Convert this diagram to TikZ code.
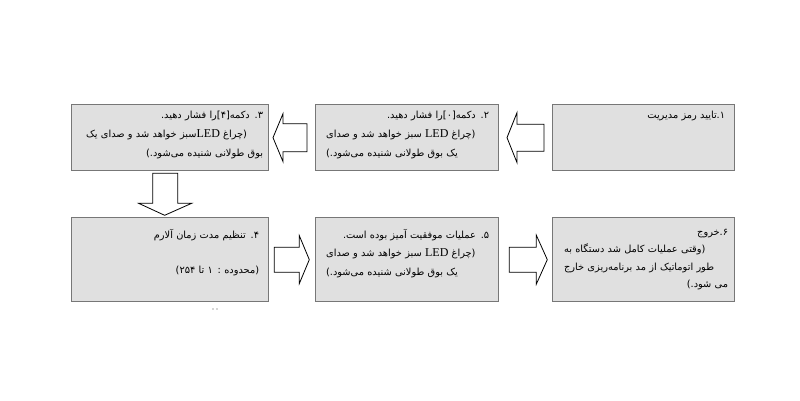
\documentclass[tikz,border=0pt]{standalone}
\usepackage{fontspec}
\setmainfont{Liberation Serif}
\newfontfamily\arabicfont[Script=Arabic]{DejaVu Sans}
\TeXXeTstate=1
\usetikzlibrary{calc}
\definecolor{boxfill}{HTML}{E0E0E0}
\definecolor{boxborder}{HTML}{777777}
\newcommand\RL[1]{\leavevmode\beginR #1\endR}
\newcommand\JL[1]{\leavevmode\hbox to\hsize{\beginR #1\endR}}
\newcommand\LED{\beginL{\rmfamily\fontsize{12}{12}\selectfont LED}\endL}
\newcommand\fa[1]{\arabicfont\fontsize{9.8}{#1}\selectfont\spaceskip=0.25em plus 2em minus 0.08em\relax}
\tikzset{
  box/.style={draw=boxborder, line width=1.3pt, fill=boxfill, inner sep=0pt, anchor=north west},
  txt/.style={inner sep=0pt, anchor=north east, align=right},
  arr/.style={draw=black, line width=0.8pt, fill=white, line join=miter},
}
\begin{document}
\begin{tikzpicture}[x=1pt,y=-1pt]
\useasboundingbox (0,0) rectangle (800,400);
\fill[white] (0,0) rectangle (800,400);
% boxes
\node[box, minimum width=182pt, minimum height=66pt] (b1) at (552,104) {};
\node[box, minimum width=183pt, minimum height=66pt] (b2) at (315,104) {};
\node[box, minimum width=197pt, minimum height=66pt] (b3) at (71,104) {};
\node[box, minimum width=197pt, minimum height=84pt] (b4) at (71,217) {};
\node[box, minimum width=183pt, minimum height=84pt] (b5) at (315,217) {};
\node[box, minimum width=182pt, minimum height=84pt] (b6) at (552,217) {};
% texts
\node[txt, text width=165pt, font=\fa{19pt}] (t1) at ($(b1.north east)+(-10,7)$) {\RL{۱.تایید رمز مدیریت}};
\node[txt, text width=163pt, font=\fa{19pt}] (t2) at ($(b2.north east)+(-10,7)$) {\RL{۲. دکمه[۰]را فشار دهید.}\\ \JL{(چراغ \LED\ سبز خواهد شد و صدای}\\ \JL{یک بوق طولانی شنیده می‌شود.)}};
\node[txt, text width=177pt, font=\fa{19pt}] (t3) at ($(b3.north east)+(-6,7)$) {\RL{۳. دکمه[۴]را فشار دهید.}\\ \JL{(چراغ \LED{}سبز خواهد شد و صدای یک}\\ \RL{بوق طولانی شنیده می‌شود.)}};
\node[txt, text width=170pt, font=\fa{17.5pt}] (t4) at ($(b4.north east)+(-10,12)$) {\RL{۴.  تنظیم مدت زمان آلارم}\\ \mbox{}\\ \RL{(محدوده : ۱ تا \beginL ۲۵۴\endL)}};
\node[txt, text width=163pt, font=\fa{18.5pt}] (t5) at ($(b5.north east)+(-10,12)$) {\RL{۵.  عملیات موفقیت آمیز بوده است.}\\ \JL{(چراغ \LED\ سبز خواهد شد و صدای}\\ \JL{یک بوق طولانی شنیده می‌شود.)}};
\node[txt, text width=164pt, font=\fa{17.5pt}] (t6) at ($(b6.north east)+(-7,12)$) {\RL{۶.خروج}\\ \JL{(وقتی عملیات کامل شد دستگاه به}\\ \JL{طور اتوماتیک از مد برنامه‌ریزی خارج}\\ \RL{می شود.)}};
% block arrows
\draw[arr] ($(b1.west)+(-8,-13.5)$) -- ($(b1.west)+(-35,-13.5)$) -- ($(b1.west)+(-35,-25)$) -- ($(b1.west)+(-45,0)$) -- ($(b1.west)+(-35,25)$) -- ($(b1.west)+(-35,13.5)$) -- ($(b1.west)+(-8,13.5)$) -- cycle;
\draw[arr] ($(b2.west)+(-8,-14)$) -- ($(b2.west)+(-32,-14)$) -- ($(b2.west)+(-32,-24)$) -- ($(b2.west)+(-42,0)$) -- ($(b2.west)+(-32,24)$) -- ($(b2.west)+(-32,14)$) -- ($(b2.west)+(-8,14)$) -- cycle;
\draw[arr] ($(b3.south)+(-17.5,2)$) -- ($(b3.south)+(7.5,2)$) -- ($(b3.south)+(7.5,32)$) -- ($(b3.south)+(21.5,32)$) -- ($(b3.south)+(-5.5,44)$) -- ($(b3.south)+(-31.5,32)$) -- ($(b3.south)+(-17.5,32)$) -- cycle;
\draw[arr] ($(b4.east)+(5,-12.5)$) -- ($(b4.east)+(30,-12.5)$) -- ($(b4.east)+(30,-24)$) -- ($(b4.east)+(40,0)$) -- ($(b4.east)+(30,24)$) -- ($(b4.east)+(30,12.5)$) -- ($(b4.east)+(5,12.5)$) -- cycle;
\draw[arr] ($(b5.east)+(10,-12.5)$) -- ($(b5.east)+(37,-12.5)$) -- ($(b5.east)+(37,-24.5)$) -- ($(b5.east)+(48,0)$) -- ($(b5.east)+(37,24.5)$) -- ($(b5.east)+(37,12.5)$) -- ($(b5.east)+(10,12.5)$) -- cycle;
% tiny marks
\fill[black!70] (213,309) circle (0.6);
\fill[black!70] (217,309) circle (0.6);
\end{tikzpicture}
\end{document}
